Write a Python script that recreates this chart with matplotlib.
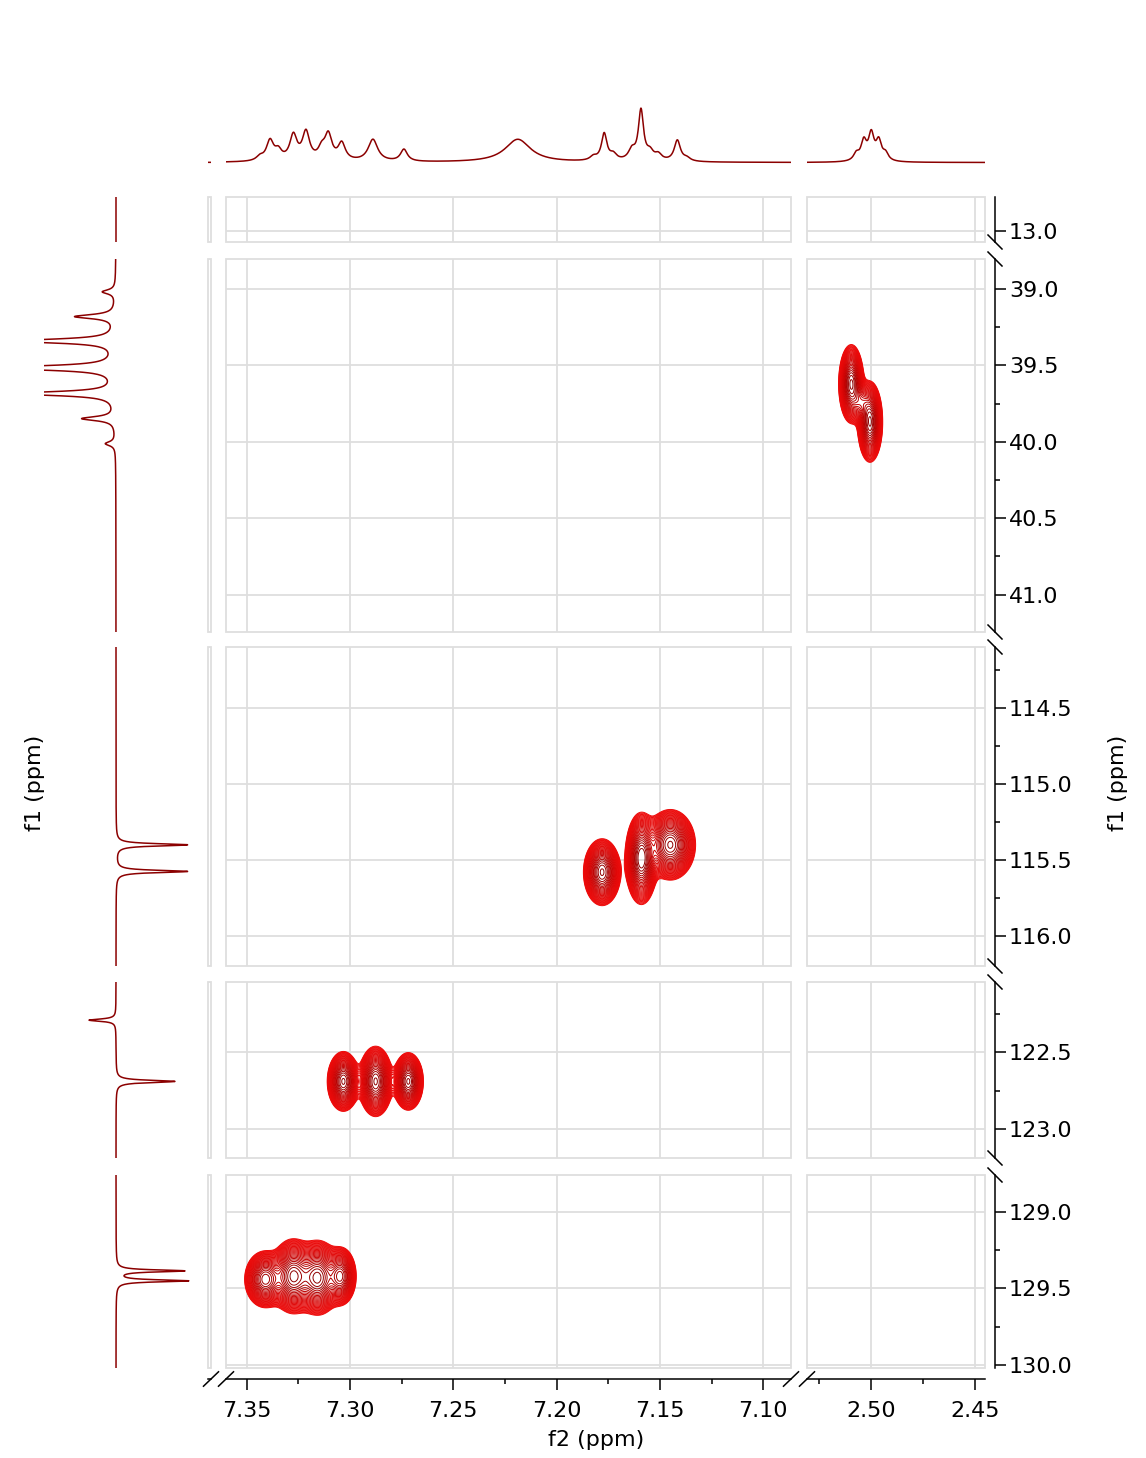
"""
HSQC-style 2D spectrum with broken f1/f2 axes and 1D projections
"""

import numpy as np
import matplotlib
matplotlib.use('Agg')
import matplotlib.pyplot as plt
from matplotlib.lines import Line2D
from matplotlib.patches import Rectangle
from matplotlib.ticker import MultipleLocator, FormatStrFormatter
from matplotlib.colors import LinearSegmentedColormap

W, H = 1146, 1458

# f2 (1H) windows shown, left to right
f2_windows = [(7.402, 7.400), (7.360, 7.0866), (2.5308, 2.4452)]
# f1 (13C) windows shown, top to bottom
f1_windows = [(12.777, 13.072), (38.803, 41.245), (114.099, 116.197),
              (122.041, 123.19), (128.758, 130.02)]

# 1H projection: shift (ppm), height, half width (ppm)
h_shift = [7.3436, 7.3387, 7.3347, 7.3274, 7.3213, 7.3137, 7.3105, 7.3040,
           7.2889, 7.2739, 7.2188, 7.1822, 7.1770, 7.1726, 7.1636, 7.1592,
           7.1548, 7.1508, 7.1416, 7.1370,
           2.5071, 2.5035, 2.4999, 2.4963, 2.4930]
h_height = [4, 20, 9, 25, 28, 10, 25, 17,
            22, 12, 23, 4, 27, 6, 10, 50,
            8, 6, 21, 3,
            7, 19, 26, 19, 7]
h_width = [0.002, 0.0021, 0.002, 0.0021, 0.0021, 0.002, 0.0021, 0.0021,
           0.0028, 0.002, 0.0075, 0.002, 0.0016, 0.002, 0.002, 0.0015,
           0.002, 0.002, 0.0018, 0.002,
           0.0016, 0.0016, 0.0016, 0.0016, 0.0016]

# 13C projection: shift (ppm), intensity, half width (ppm)
c_shift = [39.018, 39.180, 39.340, 39.516, 39.684, 39.848, 40.012,
           115.400, 115.575, 122.290, 122.690, 129.385, 129.450]
c_height = [-13, -40, -100, -130, -100, -33, -10,
            72, 72, -27, 59, 68, 72]
c_width = [0.016, 0.016, 0.016, 0.016, 0.016, 0.016, 0.016,
           0.009, 0.009, 0.009, 0.009, 0.008, 0.008]

# cross peaks: f2, f1, sigma f2, sigma f1, amplitude
xp_f2 = [2.5095, 2.5050, 2.5005,
         7.1780, 7.1590, 7.1450,
         7.3032, 7.2876, 7.2718,
         7.3410, 7.3275, 7.3155, 7.3045]
xp_f1 = [39.62, 39.74, 39.87,
         115.58, 115.49, 115.40,
         122.69, 122.69, 122.69,
         129.44, 129.42, 129.43, 129.42]
xp_s2 = [0.0025, 0.0025, 0.0025,
         0.0037, 0.0032, 0.0050,
         0.0032, 0.0034, 0.0030,
         0.0042, 0.0045, 0.0045, 0.0032]
xp_s1 = [0.105, 0.06, 0.108,
         0.090, 0.122, 0.095,
         0.080, 0.094, 0.077,
         0.078, 0.100, 0.100, 0.080]
xp_amp = [1.0, 0.35, 1.0,
          1.0, 1.1, 1.0,
          1.0, 1.0, 1.0,
          0.85, 1.0, 1.0, 0.8]

col_px = [(208, 211), (226, 791), (807, 985)]
row_px = [(197, 242), (259, 632), (647, 966), (982, 1158), (1175, 1368)]

GRID = '#dedede'
TRACE = '#8b0000'
FS = 16

cmap = LinearSegmentedColormap.from_list('hsqc', ['#ee0a0a', '#c00000', '#8b0000'])
levels = np.geomspace(0.05, 0.97, 30)


def lorentz(x, centers, heights, widths):
    x = np.asarray(x)[:, None]
    c = np.asarray(centers)
    h = np.asarray(heights, dtype=float)
    w = np.asarray(widths)
    return np.sum(h / (1 + ((x - c) / w) ** 2), axis=1)


def cross_peaks(X, Y):
    Z = np.zeros_like(X)
    for f2, f1, s2, s1, a in zip(xp_f2, xp_f1, xp_s2, xp_s1, xp_amp):
        Z += a * np.exp(-0.5 * (((X - f2) / s2) ** 2 + ((Y - f1) / s1) ** 2))
    return Z


def box(x0, x1, y0, y1):
    """pixel box -> figure rect"""
    return [x0 / W, 1 - y1 / H, (x1 - x0) / W, (y1 - y0) / H]


fig = plt.figure(figsize=(W / 100, H / 100), dpi=100)
px = 72 / 100  # points per pixel

for r, ((y0, y1), (f1a, f1b)) in enumerate(zip(row_px, f1_windows)):
    for c, ((x0, x1), (f2a, f2b)) in enumerate(zip(col_px, f2_windows)):
        ax = fig.add_axes(box(x0, x1, y0, y1))
        ax.set_xlim(f2a, f2b)
        ax.set_ylim(f1b, f1a)
        for s in ax.spines.values():
            s.set_visible(False)
        ax.add_patch(Rectangle((0, 0), 1, 1, transform=ax.transAxes, fill=False,
                               ec=GRID, lw=1.3, clip_on=False, zorder=0))
        ax.tick_params(which='both', left=False, bottom=False,
                       labelleft=False, labelbottom=False)
        if c > 0:
            ax.xaxis.set_major_locator(MultipleLocator(0.05))
            ax.yaxis.set_major_locator(MultipleLocator(0.5))
            ax.grid(True, which='major', color=GRID, lw=1.3, zorder=0)
        else:
            ax.set_xticks([])
            ax.set_yticks([])

        if c > 0:
            xs = np.linspace(f2a, f2b, 800)
            ys = np.linspace(f1a, f1b, 500)
            X, Y = np.meshgrid(xs, ys)
            Z = cross_peaks(X, Y)
            if Z.max() > levels[0]:
                ax.contour(X, Y, Z, levels=levels, cmap=cmap, vmin=levels[0],
                           vmax=1.0, linewidths=0.7, zorder=2)

        # bottom f2 axis
        if r == len(row_px) - 1:
            ax.spines['bottom'].set_visible(True)
            ax.spines['bottom'].set_position(('outward', 11 * px))
            ax.spines['bottom'].set_linewidth(1.1)
            if c > 0:
                ax.xaxis.set_minor_locator(MultipleLocator(0.025))
                ax.xaxis.set_major_formatter(FormatStrFormatter('%.2f'))
                ax.tick_params(axis='x', which='both', bottom=True, labelbottom=True,
                               direction='out', width=1.1, labelsize=FS, pad=8)
                ax.tick_params(axis='x', which='major', length=11 * px)
                ax.tick_params(axis='x', which='minor', length=5 * px)

        # right f1 axis
        if c == len(col_px) - 1:
            ax.spines['right'].set_visible(True)
            ax.spines['right'].set_position(('outward', 10 * px))
            ax.spines['right'].set_linewidth(1.1)
            ax.yaxis.set_minor_locator(MultipleLocator(0.25))
            ax.yaxis.set_major_formatter(FormatStrFormatter('%.1f'))
            ax.tick_params(axis='y', which='both', right=True, labelright=True,
                           direction='out', width=1.1, labelsize=FS, pad=2)
            ax.tick_params(axis='y', which='major', length=11 * px)
            ax.tick_params(axis='y', which='minor', length=5 * px)

    # 13C projection strip for this row
    axp = fig.add_axes(box(44, 200, y0, y1))
    ys = np.linspace(f1a, f1b, 1200)
    axp.plot(lorentz(ys, c_shift, c_height, c_width), ys, color=TRACE, lw=1.1)
    axp.set_xlim(-72, 84)
    axp.set_ylim(f1b, f1a)
    axp.axis('off')

# 1H projection above each column
for (x0, x1), (f2a, f2b) in zip(col_px, f2_windows):
    axt = fig.add_axes(box(x0, x1, 95, 170))
    xs = np.linspace(f2a, f2b, 2000)
    axt.plot(xs, lorentz(xs, h_shift, h_height, h_width), color=TRACE, lw=1.1)
    axt.set_xlim(f2a, f2b)
    axt.set_ylim(-7.5, 67.5)
    axt.axis('off')


def slash(cx, cy, dx, dy):
    fig.add_artist(Line2D([(cx - dx) / W, (cx + dx) / W],
                          [1 - (cy - dy) / H, 1 - (cy + dy) / H],
                          transform=fig.transFigure, color='black', lw=1.1))


# break marks on the f2 axis
y_axis = row_px[-1][1] + 11
for cx in (col_px[0][1], col_px[1][0], col_px[1][1], col_px[2][0]):
    slash(cx, y_axis, 7.5, -7.2)

# break marks on the f1 axis
x_axis = col_px[-1][1] + 10
for (a0, a1), (b0, b1) in zip(row_px[:-1], row_px[1:]):
    slash(x_axis, a1, 7, 7)
    slash(x_axis, b0, 7, 7)

fig.text(596.5 / W, 1 - 1440 / H, 'f2 (ppm)', ha='center', va='center', fontsize=FS)
fig.text(35 / W, 1 - 783 / H, 'f1 (ppm)', ha='center', va='center',
         rotation=90, fontsize=FS)
fig.text(1118 / W, 1 - 783 / H, 'f1 (ppm)', ha='center', va='center',
         rotation=90, fontsize=FS)

fig.savefig('out.png', dpi=100)
